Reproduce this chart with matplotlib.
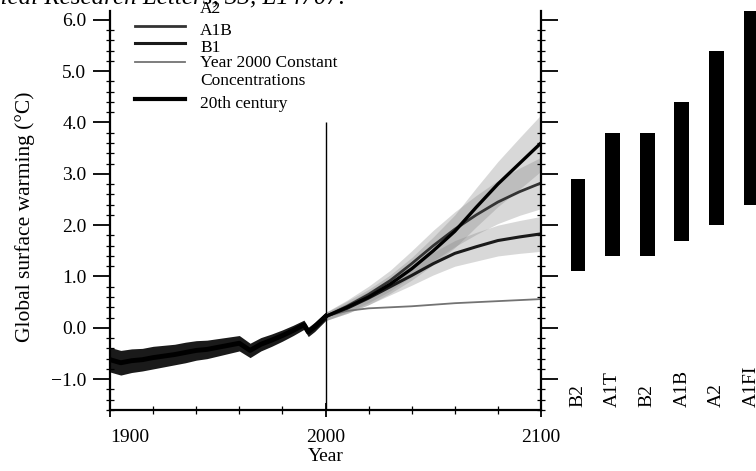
"""Global surface warming projections (scanned IPCC-style figure): 20th century + SRES scenarios, with likely-range bars."""
import matplotlib
matplotlib.use("Agg")
import matplotlib.pyplot as plt
from matplotlib.ticker import MultipleLocator

plt.rcParams["font.family"] = ["Liberation Serif", "DejaVu Serif"]

# 20th century (observed/simulated), every 5 years
hist_years = [1900, 1905, 1910, 1915, 1920, 1925, 1930, 1935, 1940, 1945, 1950,
              1955, 1960, 1965, 1970, 1975, 1980, 1985, 1990, 1992, 1995, 2000]
hist_vals = [-0.62, -0.68, -0.64, -0.62, -0.58, -0.55, -0.52, -0.48, -0.44, -0.42, -0.38,
             -0.34, -0.30, -0.44, -0.32, -0.24, -0.15, -0.05, 0.06, -0.08, 0.02, 0.22]
hist_spread = [0.24, 0.24, 0.23, 0.22, 0.22, 0.21, 0.20, 0.20, 0.19, 0.18, 0.17,
               0.16, 0.15, 0.14, 0.13, 0.12, 0.11, 0.10, 0.09, 0.09, 0.09, 0.08]

# scenario projections
proj_years = [2000, 2010, 2020, 2030, 2040, 2050, 2060, 2070, 2080, 2090, 2100]
a2 = [0.22, 0.40, 0.60, 0.85, 1.15, 1.50, 1.88, 2.35, 2.80, 3.20, 3.60]
a1b = [0.22, 0.42, 0.65, 0.92, 1.25, 1.60, 1.92, 2.20, 2.45, 2.65, 2.82]
b1 = [0.22, 0.38, 0.58, 0.80, 1.02, 1.25, 1.45, 1.58, 1.70, 1.77, 1.83]
const = [0.22, 0.33, 0.38, 0.40, 0.42, 0.45, 0.48, 0.50, 0.52, 0.54, 0.56]
a2_spread = [0.08, 0.12, 0.15, 0.18, 0.22, 0.27, 0.32, 0.38, 0.44, 0.50, 0.55]
a1b_spread = [0.08, 0.12, 0.16, 0.20, 0.25, 0.30, 0.34, 0.38, 0.42, 0.46, 0.50]
b1_spread = [0.08, 0.10, 0.13, 0.16, 0.19, 0.22, 0.25, 0.28, 0.30, 0.32, 0.34]

# likely ranges at 2100
bar_labels = ["B2", "A1T", "B2", "A1B", "A2", "A1FI"]
bar_low = [1.1, 1.4, 1.4, 1.7, 2.0, 2.4]
bar_high = [2.9, 3.8, 3.8, 4.4, 5.4, 6.4]

YMIN, YMAX = -1.6, 6.17

fig = plt.figure(figsize=(7.56, 4.71), dpi=100)
ax = fig.add_axes([110 / 756, 1 - 410 / 471, 431 / 756, 399 / 471])
axb = fig.add_axes([541 / 756, 1 - 410 / 471, 215 / 756, 399 / 471])

# spreads
for y, s in [(a2, a2_spread), (a1b, a1b_spread), (b1, b1_spread)]:
    ax.fill_between(proj_years, [v - d for v, d in zip(y, s)], [v + d for v, d in zip(y, s)],
                    color="0.5", alpha=0.3, lw=0)
ax.fill_between(hist_years, [v - d for v, d in zip(hist_vals, hist_spread)],
                [v + d for v, d in zip(hist_vals, hist_spread)], color="0.1", lw=0)
ax.plot(hist_years, hist_vals, color="black", lw=3.5)
ax.plot(proj_years, const, color="0.45", lw=1.3)
ax.plot(proj_years, b1, color="0.1", lw=2.2)
ax.plot(proj_years, a1b, color="0.2", lw=2.0)
ax.plot(proj_years, a2, color="black", lw=2.4)
ax.vlines(2000, YMIN, 4.0, color="black", lw=1.0)

ax.set_xlim(1900, 2100)
ax.set_ylim(YMIN, YMAX)
ax.spines["top"].set_visible(False)
for sp in ["left", "right", "bottom"]:
    ax.spines[sp].set_linewidth(1.6)
ax.set_xticks([1900, 2000, 2100])
ax.set_xticklabels(["1900", "2000", "2100"], fontsize=14)
ax.get_xticklabels()[0].set_horizontalalignment("left")
ax.xaxis.set_minor_locator(MultipleLocator(20))
ax.set_yticks([-1, 0, 1, 2, 3, 4, 5, 6])
ax.set_yticklabels(["\u22121.0", "0.0", "1.0", "2.0", "3.0", "4.0", "5.0", "6.0"], fontsize=14)
ax.yaxis.set_minor_locator(MultipleLocator(0.2))
ax.tick_params(axis="y", which="major", left=True, right=True, direction="out", length=12, width=1.3, pad=5)
ax.tick_params(axis="y", which="minor", left=True, right=True, direction="inout", length=6, width=0.9)
ax.tick_params(axis="x", which="major", direction="inout", length=10, width=1.3, pad=9)
ax.tick_params(axis="x", which="minor", direction="inout", length=6, width=0.9)
ax.set_ylabel("Global surface warming (\u00b0C)", fontsize=15.5)
ax.yaxis.set_label_coords(-0.175, 0.484)
ax.set_xlabel("Year", fontsize=14)
ax.xaxis.set_label_coords(0.5, -0.095)

# legend drawn by hand (top row clipped by the figure edge)
leg = [("A2", 1.032, 1.006, "black", 2.4), ("A1B", 0.962, 0.951, "0.2", 2.0),
       ("B1", 0.920, 0.907, "0.1", 2.2), ("Year 2000 Constant", 0.872, 0.870, "0.45", 1.3),
       ("20th century", 0.779, 0.767, "black", 3.0)]
for lab, ly, ty, c, lw in leg:
    ax.plot([0.058, 0.174], [ly, ly], transform=ax.transAxes, color=c, lw=lw, clip_on=False)
    ax.text(0.209, ty, lab, transform=ax.transAxes, fontsize=12.5, va="center", ha="left")
ax.text(0.209, 0.824, "Concentrations", transform=ax.transAxes, fontsize=12.5, va="center", ha="left")

# likely-range bars
xs = list(range(len(bar_labels)))
axb.bar(xs, [h - l for h, l in zip(bar_high, bar_low)], bottom=bar_low, width=0.43, color="black")
for x, lab in zip(xs, bar_labels):
    axb.text(x, -1.55, lab, rotation=90, ha="center", va="bottom", fontsize=14)
axb.set_xlim(-1.07, 5.14)
axb.set_ylim(YMIN, YMAX)
axb.axis("off")
axb.patch.set_visible(False)
ax.set_zorder(2)
ax.patch.set_visible(False)

fig.text(345 / 756, 1 - 4 / 471, "Geophysical Research Letters, 33, L14707.", fontsize=18,
         style="italic", ha="right", va="baseline")

fig.savefig("out.png", dpi=100)
print("[plot] wrote out.png")
